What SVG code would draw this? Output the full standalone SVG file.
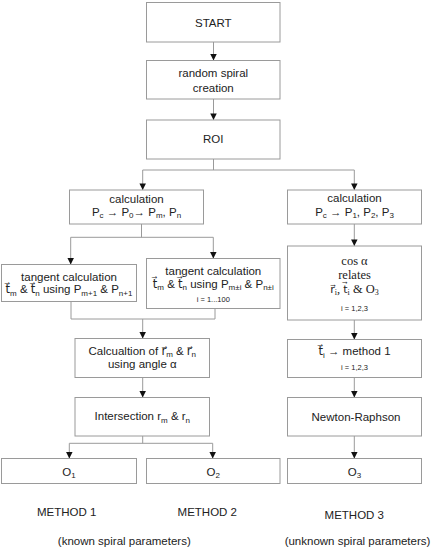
<svg xmlns="http://www.w3.org/2000/svg" width="431" height="550" viewBox="0 0 431 550">
<defs>
<marker id="ah" viewBox="0 0 10 10" refX="10" refY="5" markerWidth="7" markerHeight="6.5" markerUnits="userSpaceOnUse" orient="auto">
<path d="M0,0 L10,5 L0,10 z" fill="#111"/>
</marker>
<style>
rect{fill:#fff;stroke:#9a9a9a;stroke-width:1}
.c path,.c line,.c polyline{fill:none;stroke:#9a9a9a;stroke-width:1}
text{font-family:"Liberation Sans",Arial,"DejaVu Sans",sans-serif;font-size:11.5px;fill:#222;text-anchor:middle}
.sm{font-size:7.5px}
.sub{font-size:8px}
.serif{font-family:"Liberation Serif","Times New Roman","DejaVu Sans",serif;font-size:12.5px}
.vec{font-family:"DejaVu Sans",sans-serif;font-size:11px}
</style>
</defs>
<rect x="0" y="0" width="431" height="550" style="fill:#fff;stroke:none"/>
<g class="c" id="connectors">
<line x1="213.5" y1="42" x2="213.5" y2="60.5" marker-end="url(#ah)"/>
<line x1="213.5" y1="99" x2="213.5" y2="120" marker-end="url(#ah)"/>
<polyline points="213.5,159 213.5,170"/>
<polyline points="142.7,170 354.3,170"/>
<line x1="142.7" y1="170" x2="142.7" y2="190" marker-end="url(#ah)"/>
<line x1="354.3" y1="170" x2="354.3" y2="190" marker-end="url(#ah)"/>
<polyline points="141.5,224 141.5,237.3"/>
<polyline points="70.7,237.3 213.3,237.3"/>
<line x1="70.7" y1="237.3" x2="70.7" y2="264.5" marker-end="url(#ah)"/>
<line x1="213.3" y1="237.3" x2="213.3" y2="258.5" marker-end="url(#ah)"/>
<polyline points="71,301.5 71,319 215,319 215,308.5"/>
<line x1="142.7" y1="319" x2="142.7" y2="338.5" marker-end="url(#ah)"/>
<line x1="142.7" y1="377.5" x2="142.7" y2="397.5" marker-end="url(#ah)"/>
<polyline points="142.7,436 142.7,443.3"/>
<polyline points="69.3,443.3 212.7,443.3"/>
<line x1="69.3" y1="443.3" x2="69.3" y2="458.5" marker-end="url(#ah)"/>
<line x1="212.7" y1="443.3" x2="212.7" y2="458.5" marker-end="url(#ah)"/>
<line x1="354.3" y1="224" x2="354.3" y2="246" marker-end="url(#ah)"/>
<line x1="354.3" y1="320" x2="354.3" y2="339.5" marker-end="url(#ah)"/>
<line x1="354.3" y1="377.5" x2="354.3" y2="397.5" marker-end="url(#ah)"/>
<line x1="354.3" y1="436" x2="354.3" y2="458.5" marker-end="url(#ah)"/>
</g>
<g id="start">
<rect x="146.5" y="2.5" width="133.5" height="39.5"/>
<text x="213.3" y="26.5">START</text>
</g>
<g id="random">
<rect x="146.5" y="60.5" width="133.5" height="38.5"/>
<text x="213.3" y="77">random spiral</text>
<text x="213.3" y="92">creation</text>
</g>
<g id="roi">
<rect x="146.5" y="120" width="133.5" height="39"/>
<text x="213.3" y="143">ROI</text>
</g>
<g id="calc-left">
<rect x="69.5" y="190" width="134" height="34"/>
<text x="136.5" y="202.5">calculation</text>
<text x="136.5" y="215.5">P<tspan class="sub" dy="2.5">c</tspan><tspan dy="-2.5"> → P</tspan><tspan class="sub" dy="2.5">0</tspan><tspan dy="-2.5">→ P</tspan><tspan class="sub" dy="2.5">m</tspan><tspan dy="-2.5">, P</tspan><tspan class="sub" dy="2.5">n</tspan></text>
</g>
<g id="tangent1">
<rect x="1.5" y="264.5" width="135" height="37"/>
<text x="69" y="280.5">tangent calculation</text>
<text x="69" y="293">t⃗<tspan class="sub" dy="2.5">m</tspan><tspan dy="-2.5"> &amp; t⃗</tspan><tspan class="sub" dy="2.5">n</tspan><tspan dy="-2.5"> using P</tspan><tspan class="sub" dy="2.5">m+1</tspan><tspan dy="-2.5"> &amp; P</tspan><tspan class="sub" dy="2.5">n+1</tspan></text>
</g>
<g id="tangent2">
<rect x="146.5" y="258.5" width="133.5" height="50"/>
<text x="213.3" y="275">tangent calculation</text>
<text x="213.3" y="287.5">t⃗<tspan class="sub" dy="2.5">m</tspan><tspan dy="-2.5"> &amp; t⃗</tspan><tspan class="sub" dy="2.5">n</tspan><tspan dy="-2.5"> using P</tspan><tspan class="sub" dy="2.5">m±i</tspan><tspan dy="-2.5"> &amp; P</tspan><tspan class="sub" dy="2.5">n±i</tspan></text>
<text class="sm" x="213.3" y="302">i = 1...100</text>
</g>
<g id="calc-r">
<rect x="75" y="338.5" width="134.5" height="39"/>
<text x="142.3" y="354.5">Calcualtion of r⃗<tspan class="sub" dy="2.5">m</tspan><tspan dy="-2.5"> &amp; r⃗</tspan><tspan class="sub" dy="2.5">n</tspan></text>
<text x="142.3" y="367.5">using angle α</text>
</g>
<g id="intersection">
<rect x="75" y="397.5" width="134.5" height="38.5"/>
<text x="142.3" y="420">Intersection r<tspan class="sub" dy="2.5">m</tspan><tspan dy="-2.5"> &amp; r</tspan><tspan class="sub" dy="2.5">n</tspan></text>
</g>
<g id="o1">
<rect x="1.5" y="458.5" width="135" height="25"/>
<text x="69" y="475.5">O<tspan class="sub" dy="2.5">1</tspan></text>
</g>
<g id="o2">
<rect x="146.5" y="458.5" width="133.5" height="25"/>
<text x="213.3" y="475.5">O<tspan class="sub" dy="2.5">2</tspan></text>
</g>
<g id="calc-right">
<rect x="287.5" y="190" width="134" height="34"/>
<text x="354.5" y="202">calculation</text>
<text x="354.5" y="215.5">P<tspan class="sub" dy="2.5">c</tspan><tspan dy="-2.5"> → P</tspan><tspan class="sub" dy="2.5">1</tspan><tspan dy="-2.5">, P</tspan><tspan class="sub" dy="2.5">2</tspan><tspan dy="-2.5">, P</tspan><tspan class="sub" dy="2.5">3</tspan></text>
</g>
<g id="cos">
<rect x="287.5" y="246" width="134" height="74"/>
<text class="serif" x="354.5" y="264.5">cos α</text>
<text class="serif" x="354.5" y="278.5">relates</text>
<text class="serif" x="354.5" y="292.5"><tspan class="vec">r⃗</tspan><tspan class="sub" dy="2.5">i</tspan><tspan dy="-2.5">, </tspan><tspan class="vec">t⃗</tspan><tspan class="sub" dy="2.5">i</tspan><tspan dy="-2.5"> &amp; O</tspan><tspan class="sub" dy="2.5">3</tspan></text>
<text class="sm" x="354.5" y="310.5">i = 1,2,3</text>
</g>
<g id="ti">
<rect x="287.5" y="339.5" width="134" height="38"/>
<text x="354.5" y="355">t⃗<tspan class="sub" dy="2.5">i</tspan><tspan dy="-2.5"> → method 1</tspan></text>
<text class="sm" x="354.5" y="370">i = 1,2,3</text>
</g>
<g id="newton">
<rect x="287.5" y="397.5" width="134" height="38.5"/>
<text x="356" y="420.5">Newton-Raphson</text>
</g>
<g id="o3">
<rect x="287.5" y="458.5" width="134" height="25"/>
<text x="354.5" y="475.5">O<tspan class="sub" dy="2.5">3</tspan></text>
</g>
<g id="labels">
<text x="66.7" y="516">METHOD 1</text>
<text x="207.3" y="516">METHOD 2</text>
<text x="354.3" y="519">METHOD 3</text>
<text x="124.3" y="545">(known spiral parameters)</text>
<text x="357.5" y="545">(unknown spiral parameters)</text>
</g>
</svg>
